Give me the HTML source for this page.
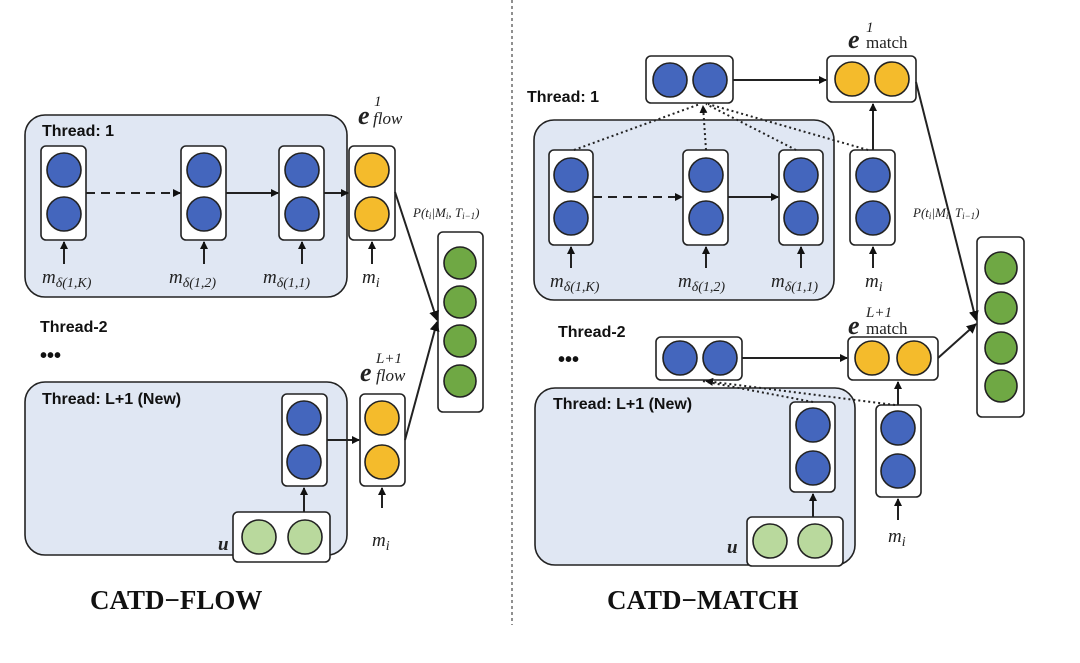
<!DOCTYPE html>
<html><head><meta charset="utf-8"><style>
body{margin:0;background:#fff}
svg{display:block}
.t{font-family:"Liberation Sans",sans-serif;font-weight:bold;font-size:16px;fill:#111}
.m{font-family:"Liberation Serif",serif;font-style:italic;fill:#222}
.big{font-family:"Liberation Serif",serif;font-weight:bold;font-size:27px;fill:#111}
</style></head><body>
<svg width="1080" height="663" viewBox="0 0 1080 663" xmlns="http://www.w3.org/2000/svg">
<defs>
<marker id="a" markerWidth="8" markerHeight="8" refX="7" refY="4" orient="auto" markerUnits="userSpaceOnUse"><path d="M0,0 L8,4 L0,8 z" fill="#111"/></marker>
<marker id="b" markerWidth="10" markerHeight="10" refX="9" refY="5" orient="auto" markerUnits="userSpaceOnUse"><path d="M0,0 L10,5 L0,10 z" fill="#111"/></marker>
</defs>
<g stroke="#222" stroke-width="1.6">
<!-- LEFT -->
<rect x="25" y="115" width="322" height="182" rx="20" fill="#e0e7f3"/>
<rect x="25" y="382" width="322" height="173" rx="20" fill="#e0e7f3"/>
<rect x="41" y="146" width="45" height="94" rx="5" fill="#fff"/>
<rect x="181" y="146" width="45" height="94" rx="5" fill="#fff"/>
<rect x="279" y="146" width="45" height="94" rx="5" fill="#fff"/>
<rect x="349" y="146" width="46" height="94" rx="5" fill="#fff"/>
<rect x="438" y="232" width="45" height="180" rx="5" fill="#fff"/>
<rect x="282" y="394" width="45" height="92" rx="5" fill="#fff"/>
<rect x="360" y="394" width="45" height="92" rx="5" fill="#fff"/>
<rect x="233" y="512" width="97" height="50" rx="5" fill="#fff"/>
<g fill="#4466bd">
<circle cx="64" cy="170" r="17"/><circle cx="64" cy="214" r="17"/>
<circle cx="204" cy="170" r="17"/><circle cx="204" cy="214" r="17"/>
<circle cx="302" cy="170" r="17"/><circle cx="302" cy="214" r="17"/>
<circle cx="304" cy="418" r="17"/><circle cx="304" cy="462" r="17"/>
</g>
<g fill="#f4bb2c">
<circle cx="372" cy="170" r="17"/><circle cx="372" cy="214" r="17"/>
<circle cx="382" cy="418" r="17"/><circle cx="382" cy="462" r="17"/>
</g>
<g fill="#6fa844">
<circle cx="460" cy="263" r="16"/><circle cx="460" cy="302" r="16"/><circle cx="460" cy="341" r="16"/><circle cx="460" cy="381" r="16"/>
</g>
<g fill="#b9d99d"><circle cx="259" cy="537" r="17"/><circle cx="305" cy="537" r="17"/></g>
<line x1="86" y1="193" x2="180" y2="193" stroke-dasharray="9,6" marker-end="url(#a)" stroke-width="2"/>
<line x1="226" y1="193" x2="278" y2="193" marker-end="url(#a)" stroke-width="2"/>
<line x1="324" y1="193" x2="348" y2="193" marker-end="url(#a)" stroke-width="2"/>
<line x1="327" y1="440" x2="359" y2="440" marker-end="url(#a)" stroke-width="2"/>
<line x1="64" y1="264" x2="64" y2="242" marker-end="url(#a)" stroke-width="2"/>
<line x1="204" y1="264" x2="204" y2="242" marker-end="url(#a)" stroke-width="2"/>
<line x1="302" y1="264" x2="302" y2="242" marker-end="url(#a)" stroke-width="2"/>
<line x1="372" y1="264" x2="372" y2="242" marker-end="url(#a)" stroke-width="2"/>
<line x1="382" y1="508" x2="382" y2="488" marker-end="url(#a)" stroke-width="2"/>
<line x1="304" y1="512" x2="304" y2="488" marker-end="url(#a)" stroke-width="2"/>
<line x1="395" y1="192" x2="437" y2="320" marker-end="url(#b)" stroke-width="2"/>
<line x1="405" y1="440" x2="437" y2="322" marker-end="url(#b)" stroke-width="2"/>
<line x1="512" y1="0" x2="512" y2="625" stroke-dasharray="3,3" stroke-width="1"/>
<!-- RIGHT -->
<rect x="534" y="120" width="300" height="180" rx="20" fill="#e0e7f3"/>
<rect x="535" y="388" width="320" height="177" rx="20" fill="#e0e7f3"/>
<rect x="646" y="56" width="87" height="47" rx="5" fill="#fff"/>
<rect x="827" y="56" width="89" height="46" rx="5" fill="#fff"/>
<rect x="549" y="150" width="44" height="95" rx="5" fill="#fff"/>
<rect x="683" y="150" width="45" height="95" rx="5" fill="#fff"/>
<rect x="779" y="150" width="44" height="95" rx="5" fill="#fff"/>
<rect x="850" y="150" width="45" height="95" rx="5" fill="#fff"/>
<rect x="977" y="237" width="47" height="180" rx="5" fill="#fff"/>
<rect x="656" y="337" width="86" height="43" rx="5" fill="#fff"/>
<rect x="848" y="337" width="90" height="43" rx="5" fill="#fff"/>
<rect x="790" y="402" width="45" height="90" rx="5" fill="#fff"/>
<rect x="876" y="405" width="45" height="92" rx="5" fill="#fff"/>
<rect x="747" y="517" width="96" height="49" rx="5" fill="#fff"/>
<g fill="#4466bd">
<circle cx="670" cy="80" r="17"/><circle cx="710" cy="80" r="17"/>
<circle cx="571" cy="175" r="17"/><circle cx="571" cy="218" r="17"/>
<circle cx="706" cy="175" r="17"/><circle cx="706" cy="218" r="17"/>
<circle cx="801" cy="175" r="17"/><circle cx="801" cy="218" r="17"/>
<circle cx="873" cy="175" r="17"/><circle cx="873" cy="218" r="17"/>
<circle cx="680" cy="358" r="17"/><circle cx="720" cy="358" r="17"/>
<circle cx="813" cy="425" r="17"/><circle cx="813" cy="468" r="17"/>
<circle cx="898" cy="428" r="17"/><circle cx="898" cy="471" r="17"/>
</g>
<g fill="#f4bb2c">
<circle cx="852" cy="79" r="17"/><circle cx="892" cy="79" r="17"/>
<circle cx="872" cy="358" r="17"/><circle cx="914" cy="358" r="17"/>
</g>
<g fill="#6fa844">
<circle cx="1001" cy="268" r="16"/><circle cx="1001" cy="308" r="16"/><circle cx="1001" cy="348" r="16"/><circle cx="1001" cy="386" r="16"/>
</g>
<g fill="#b9d99d"><circle cx="770" cy="541" r="17"/><circle cx="815" cy="541" r="17"/></g>
<line x1="733" y1="80" x2="826" y2="80" marker-end="url(#a)" stroke-width="2"/>
<line x1="742" y1="358" x2="847" y2="358" marker-end="url(#a)" stroke-width="2"/>
<line x1="593" y1="197" x2="682" y2="197" stroke-dasharray="9,6" marker-end="url(#a)" stroke-width="2"/>
<line x1="728" y1="197" x2="778" y2="197" marker-end="url(#a)" stroke-width="2"/>
<line x1="873" y1="150" x2="873" y2="104" marker-end="url(#a)" stroke-width="2"/>
<line x1="898" y1="405" x2="898" y2="382" marker-end="url(#a)" stroke-width="2"/>
<line x1="571" y1="268" x2="571" y2="247" marker-end="url(#a)" stroke-width="2"/>
<line x1="706" y1="268" x2="706" y2="247" marker-end="url(#a)" stroke-width="2"/>
<line x1="801" y1="268" x2="801" y2="247" marker-end="url(#a)" stroke-width="2"/>
<line x1="873" y1="268" x2="873" y2="247" marker-end="url(#a)" stroke-width="2"/>
<line x1="898" y1="520" x2="898" y2="499" marker-end="url(#a)" stroke-width="2"/>
<line x1="813" y1="517" x2="813" y2="494" marker-end="url(#a)" stroke-width="2"/>
<g stroke-dasharray="2,3" stroke-width="2" fill="none">
<line x1="574" y1="150" x2="700" y2="104"/>
<line x1="706" y1="150" x2="703" y2="106" marker-end="url(#a)"/>
<line x1="796" y1="150" x2="706" y2="104"/>
<line x1="868" y1="150" x2="708" y2="104"/>
<line x1="813" y1="402" x2="702" y2="381"/>
<line x1="895" y1="405" x2="706" y2="381" marker-end="url(#a)"/>
</g>
<line x1="916" y1="82" x2="976" y2="320" marker-end="url(#b)" stroke-width="2"/>
<line x1="938" y1="358" x2="976" y2="324" marker-end="url(#b)" stroke-width="2"/>
</g>
<!-- text left -->
<text class="t" x="42" y="136">Thread: 1</text>
<text class="t" x="40" y="332">Thread-2</text>
<text class="t" x="40" y="362" style="font-size:20px">•••</text>
<text class="t" x="42" y="404">Thread: L+1 (New)</text>
<g class="m" font-size="19">
<text x="42" y="283">m<tspan font-size="14" dy="4">δ(1,K)</tspan></text>
<text x="169" y="283">m<tspan font-size="14" dy="4">δ(1,2)</tspan></text>
<text x="263" y="283">m<tspan font-size="14" dy="4">δ(1,1)</tspan></text>
<text x="362" y="283">m<tspan font-size="14" dy="4">i</tspan></text>
<text x="372" y="546">m<tspan font-size="14" dy="4">i</tspan></text>
<text x="218" y="550" font-weight="bold">u</text>
<text x="358" y="124" font-weight="bold" font-size="26">e</text><text x="374" y="106" font-size="15">1</text><text x="373" y="124" font-size="17">flow</text>
<text x="360" y="381" font-weight="bold" font-size="26">e</text><text x="376" y="363" font-size="15">L+1</text><text x="376" y="381" font-size="17">flow</text>
<text x="413" y="217" font-size="13">P(t<tspan font-size="9" dy="2">i</tspan><tspan dy="-2">|M</tspan><tspan font-size="9" dy="2">i</tspan><tspan dy="-2">, T</tspan><tspan font-size="9" dy="2">i−1</tspan><tspan dy="-2">)</tspan></text>
</g>
<text class="big" x="90" y="609">CATD−FLOW</text>
<!-- text right -->
<text class="t" x="527" y="102">Thread: 1</text>
<text class="t" x="558" y="337">Thread-2</text>
<text class="t" x="558" y="366" style="font-size:20px">•••</text>
<text class="t" x="553" y="409">Thread: L+1 (New)</text>
<g class="m" font-size="19">
<text x="550" y="287">m<tspan font-size="14" dy="4">δ(1,K)</tspan></text>
<text x="678" y="287">m<tspan font-size="14" dy="4">δ(1,2)</tspan></text>
<text x="771" y="287">m<tspan font-size="14" dy="4">δ(1,1)</tspan></text>
<text x="865" y="287">m<tspan font-size="14" dy="4">i</tspan></text>
<text x="888" y="542">m<tspan font-size="14" dy="4">i</tspan></text>
<text x="727" y="553" font-weight="bold">u</text>
<text x="848" y="48" font-weight="bold" font-size="26">e</text><text x="866" y="32" font-size="15">1</text><text x="866" y="48" font-size="17" font-style="normal">match</text>
<text x="848" y="334" font-weight="bold" font-size="26">e</text><text x="866" y="317" font-size="15">L+1</text><text x="866" y="334" font-size="17" font-style="normal">match</text>
<text x="913" y="217" font-size="13">P(t<tspan font-size="9" dy="2">i</tspan><tspan dy="-2">|M</tspan><tspan font-size="9" dy="2">i</tspan><tspan dy="-2">, T</tspan><tspan font-size="9" dy="2">i−1</tspan><tspan dy="-2">)</tspan></text>
</g>
<text class="big" x="607" y="609">CATD−MATCH</text>
</svg>
</body></html>
